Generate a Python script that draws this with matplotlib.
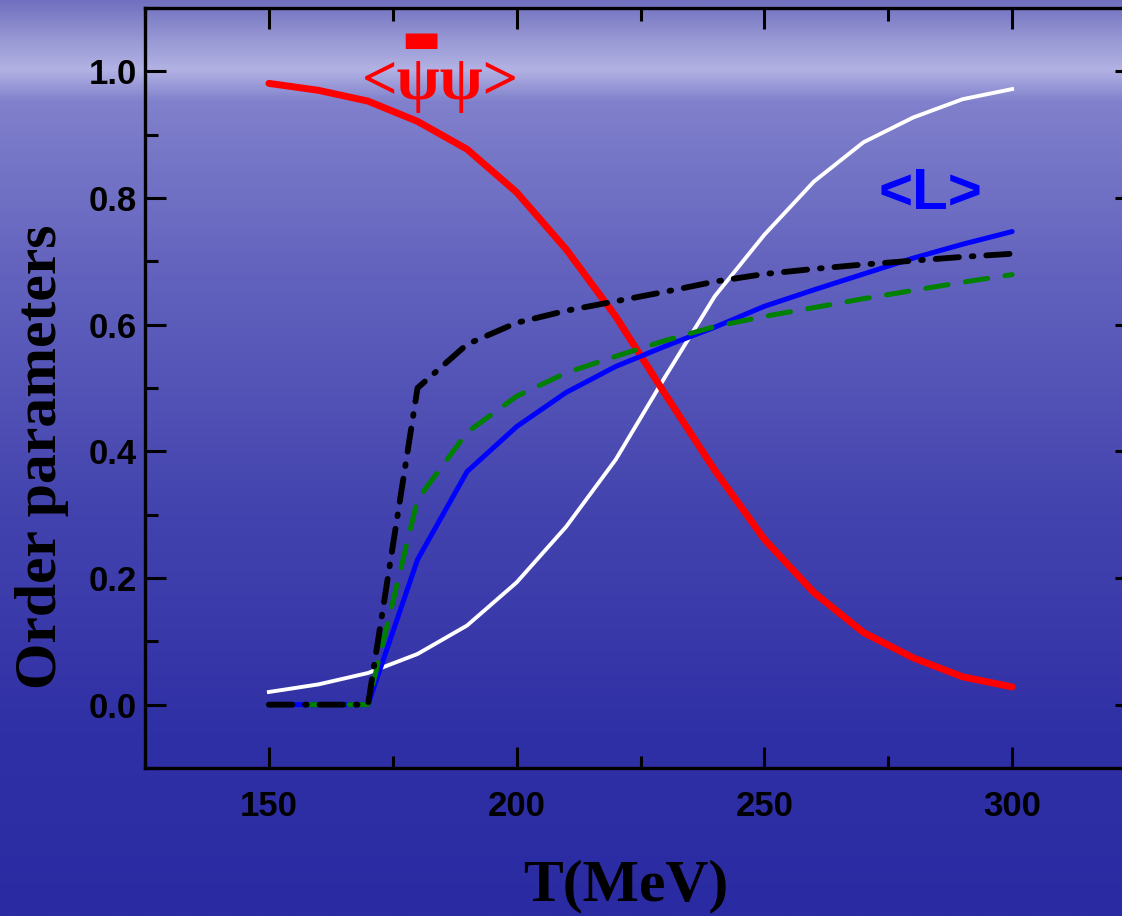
import numpy as np
import matplotlib
matplotlib.use("Agg")
import matplotlib.pyplot as plt
from matplotlib.ticker import MultipleLocator

# temperatures (MeV)
T = [150, 160, 170, 180, 190, 200, 210, 220, 230, 240, 250, 260, 270, 280, 290, 300]

# chiral condensate <psibar psi> (red)
chiral = [0.981, 0.970, 0.953, 0.921, 0.877, 0.809, 0.719, 0.613, 0.490, 0.370,
          0.261, 0.177, 0.114, 0.074, 0.044, 0.028]
# white solid curve
white_curve = [0.020, 0.032, 0.050, 0.080, 0.125, 0.193, 0.281, 0.387, 0.518, 0.645,
               0.742, 0.826, 0.888, 0.927, 0.956, 0.972]
# Polyakov loop <L> (blue)
loop = [0.0, 0.0, 0.0, 0.229, 0.368, 0.439, 0.493, 0.534, 0.566, 0.596,
        0.629, 0.655, 0.680, 0.705, 0.727, 0.747]
# green dashed
green_curve = [0.0, 0.0, 0.0, 0.324, 0.430, 0.487, 0.524, 0.550, 0.575, 0.597,
               0.613, 0.627, 0.641, 0.654, 0.667, 0.679]
# black dash-dot
black_curve = [0.0, 0.0, 0.0, 0.500, 0.569, 0.603, 0.622, 0.637, 0.652, 0.668,
               0.680, 0.688, 0.695, 0.701, 0.707, 0.712]

fig = plt.figure(figsize=(11.22, 9.16), dpi=100)

# background: bluish sky/sea gradient
bg = fig.add_axes([0, 0, 1, 1], zorder=-1)
stops_y = np.array([0.0, 0.04, 0.075, 0.11, 0.3, 0.55, 0.8, 1.0])
stops_c = np.array([[112, 112, 192], [150, 150, 212], [178, 178, 228], [128, 128, 204],
                    [98, 98, 190], [68, 68, 175], [48, 48, 166], [42, 42, 162]]) / 255.0
yy = np.linspace(0, 1, 400)
grad = np.stack([np.interp(yy, stops_y, stops_c[:, k]) for k in range(3)], axis=-1)
bg.imshow(grad[:, None, :], aspect="auto", extent=[0, 1, 0, 1])
bg.axis("off")

ax = fig.add_axes([145 / 1122, 1 - 768 / 916, (1136 - 145) / 1122, 760 / 916])
ax.set_facecolor("none")

ax.plot(T, white_curve, color="white", lw=2.8)
ax.plot(T, chiral, color="#ff0000", lw=5, solid_capstyle="round")
ax.plot(T, loop, color="#0000ff", lw=3.6, solid_capstyle="round")
ax.plot(T, green_curve, color="#008000", lw=3.6, dashes=(4.5, 3.5), dash_capstyle="round")
ax.plot(T, black_curve, color="black", lw=4.2, dashes=(4, 2.2, 0.3, 2.2), dash_capstyle="round")

ax.set_xlim(125, 325)
ax.set_ylim(-0.1, 1.1)
ax.xaxis.set_major_locator(MultipleLocator(50))
ax.xaxis.set_minor_locator(MultipleLocator(25))
ax.yaxis.set_major_locator(MultipleLocator(0.2))
ax.yaxis.set_minor_locator(MultipleLocator(0.1))
ax.yaxis.set_major_formatter(matplotlib.ticker.FormatStrFormatter("%.1f"))

ax.tick_params(which="both", direction="in", top=True, right=True, width=2.2, colors="black")
ax.tick_params(which="major", length=15, pad=10)
ax.tick_params(which="minor", length=9)
for lab in ax.get_xticklabels() + ax.get_yticklabels():
    lab.set_fontfamily("Liberation Sans")
    lab.set_fontweight("bold")
    lab.set_fontsize(25)
ax.tick_params(axis="x", pad=16)
ax.tick_params(axis="y", pad=6)
for sp in ax.spines.values():
    sp.set_linewidth(2.4)

ax.set_xlabel("T(MeV)", fontfamily="Liberation Serif", fontweight="bold", fontsize=43, labelpad=26)
ax.set_ylabel("Order parameters", fontfamily="Liberation Serif", fontweight="bold", fontsize=43, labelpad=14)
ax.xaxis.label.set_x(0.485)
ax.yaxis.label.set_y(0.409)

ax.text(283.5, 0.807, "<L>", color="#0000ff", fontfamily="Liberation Sans", fontweight="bold",
        fontsize=42, ha="center", va="center")
ax.text(184.7, 0.98, "<ψψ>", color="#ff0000", fontfamily=["Liberation Serif", "DejaVu Serif"],
        fontweight="bold", fontsize=45, ha="center", va="center")
ax.text(180.6, 1.05, "\u25ac", color="#ff0000", fontfamily="DejaVu Sans",
        fontsize=30, ha="center", va="center")

fig.savefig("out.png", dpi=100)
